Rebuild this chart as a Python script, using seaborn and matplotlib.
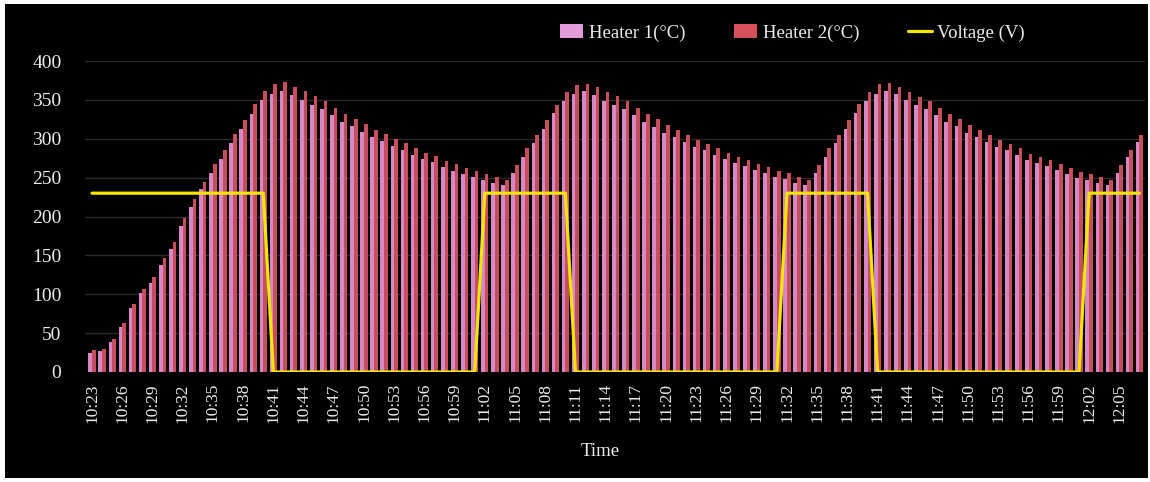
import numpy as np
import pandas as pd
import matplotlib
matplotlib.use("Agg")
import matplotlib.pyplot as plt
from matplotlib.patches import Rectangle, Patch
from matplotlib.lines import Line2D
import seaborn as sns

times = [
    "10:23", "10:24", "10:25", "10:26", "10:27", "10:28", "10:29", "10:30", "10:31", "10:32",
    "10:33", "10:34", "10:35", "10:36", "10:37", "10:38", "10:39", "10:40", "10:41", "10:42",
    "10:43", "10:44", "10:45", "10:46", "10:47", "10:48", "10:49", "10:50", "10:51", "10:52",
    "10:53", "10:54", "10:55", "10:56", "10:57", "10:58", "10:59", "11:00", "11:01", "11:02",
    "11:03", "11:04", "11:05", "11:06", "11:07", "11:08", "11:09", "11:10", "11:11", "11:12",
    "11:13", "11:14", "11:15", "11:16", "11:17", "11:18", "11:19", "11:20", "11:21", "11:22",
    "11:23", "11:24", "11:25", "11:26", "11:27", "11:28", "11:29", "11:30", "11:31", "11:32",
    "11:33", "11:34", "11:35", "11:36", "11:37", "11:38", "11:39", "11:40", "11:41", "11:42",
    "11:43", "11:44", "11:45", "11:46", "11:47", "11:48", "11:49", "11:50", "11:51", "11:52",
    "11:53", "11:54", "11:55", "11:56", "11:57", "11:58", "11:59", "12:00", "12:01", "12:02",
    "12:03", "12:04", "12:05", "12:06", "12:07",
]

heater1 = [
    25, 27, 38, 58, 82, 101, 115, 138, 158, 188,
    212, 235, 256, 274, 295, 312, 332, 350, 358, 362,
    356, 350, 344, 338, 330, 322, 316, 309, 302, 297,
    291, 285, 279, 274, 270, 264, 259, 255, 251, 247,
    243, 240, 256, 277, 295, 313, 333, 349, 358, 361,
    356, 349, 344, 338, 330, 322, 315, 308, 302, 296,
    290, 285, 279, 274, 269, 265, 260, 256, 251, 248,
    243, 240, 256, 277, 295, 313, 333, 349, 358, 361,
    357, 350, 344, 338, 330, 322, 316, 308, 302, 296,
    290, 285, 279, 273, 269, 265, 260, 255, 249, 247,
    243, 240, 256, 276, 296,
]

heater2 = [
    28, 30, 42, 63, 88, 107, 122, 147, 167, 198,
    222, 245, 268, 285, 306, 324, 345, 362, 370, 373,
    367, 361, 355, 348, 340, 332, 326, 319, 311, 306,
    300, 294, 288, 282, 278, 272, 267, 263, 259, 255,
    251, 247, 266, 288, 305, 324, 344, 360, 369, 371,
    366, 360, 355, 348, 340, 332, 325, 318, 311, 305,
    299, 293, 288, 282, 277, 273, 268, 264, 259, 256,
    251, 247, 266, 288, 305, 324, 345, 360, 370, 372,
    367, 360, 354, 348, 339, 332, 325, 318, 311, 305,
    298, 293, 288, 281, 277, 273, 268, 263, 257, 255,
    251, 247, 266, 286, 305,
]

voltage = [
    230, 230, 230, 230, 230, 230, 230, 230, 230, 230,
    230, 230, 230, 230, 230, 230, 230, 230, 0, 0,
    0, 0, 0, 0, 0, 0, 0, 0, 0, 0,
    0, 0, 0, 0, 0, 0, 0, 0, 0, 230,
    230, 230, 230, 230, 230, 230, 230, 230, 0, 0,
    0, 0, 0, 0, 0, 0, 0, 0, 0, 0,
    0, 0, 0, 0, 0, 0, 0, 0, 0, 230,
    230, 230, 230, 230, 230, 230, 230, 230, 0, 0,
    0, 0, 0, 0, 0, 0, 0, 0, 0, 0,
    0, 0, 0, 0, 0, 0, 0, 0, 0, 230,
    230, 230, 230, 230, 230,
]

series_names = ["Heater 1(°C)", "Heater 2(°C)"]
line_name = "Voltage (V)"
yticks = [0, 50, 100, 150, 200, 250, 300, 350, 400]

PINK = "#D488C8"
RED = "#C84E5C"
YELLOW = "#F2E600"
TXT = "#EDEDED"
GRID = "#2A2A2A"

sns.set_style("dark")
plt.rcParams["font.family"] = ["Liberation Serif", "DejaVu Serif"]

df = pd.DataFrame({
    "Time": times * 2,
    "Temp": heater1 + heater2,
    "Series": [series_names[0]] * len(times) + [series_names[1]] * len(times),
})

W, H = 1150, 482
fig = plt.figure(figsize=(W / 100, H / 100), dpi=100)
fig.patch.set_facecolor("white")
fig.add_artist(Rectangle((5 / W, 4 / H), (W - 7) / W, (H - 8) / H,
                         transform=fig.transFigure, facecolor="black",
                         edgecolor="none", zorder=-10))

ax = fig.add_axes([85 / W, (H - 372) / H, 1060 / W, 311 / H])
ax.set_facecolor("black")

sns.barplot(data=df, x="Time", y="Temp", hue="Series", order=times,
            hue_order=series_names, palette=[PINK, RED], width=0.72,
            saturation=1, linewidth=0, ax=ax, legend=False, zorder=2)
sns.lineplot(x=np.arange(len(times)), y=voltage, color=YELLOW, lw=2.3,
             ax=ax, zorder=3)

ax.set_ylim(0, 400)
ax.set_xlim(-0.7, len(times) - 0.45)
ax.set_yticks(yticks)
ax.set_yticklabels([str(v) for v in yticks], color=TXT, fontsize=14)
ax.set_xticks(range(0, len(times), 3))
ax.set_xticklabels(times[::3], rotation=90, color=TXT, fontsize=12.5)
ax.tick_params(axis="x", length=0, pad=8)
ax.tick_params(axis="y", length=0, pad=17)
ax.grid(axis="y", color=GRID, lw=1, zorder=0)
ax.grid(axis="x", visible=False)
ax.set_axisbelow(True)
for s in ax.spines.values():
    s.set_visible(False)

ax.set_ylabel("")
ax.set_xlabel("Time", color=TXT, fontsize=13.5)
ax.xaxis.set_label_coords((600 - 85) / 1060, (372 - 443) / 311)

handles = [Patch(facecolor="#E39BDA", edgecolor="none"),
           Patch(facecolor="#D5525C", edgecolor="none"),
           Line2D([0], [0], color=YELLOW, lw=2.3)]
labels = series_names + [line_name]
leg = fig.legend(handles, labels, ncol=3, loc="center right",
                 bbox_to_anchor=(1025 / W, 1 - 33 / H), frameon=False,
                 fontsize=13.5, handlelength=1.25, handleheight=0.7,
                 handletextpad=0.3, columnspacing=2.6, borderpad=0,
                 borderaxespad=0)
for t in leg.get_texts():
    t.set_color(TXT)

fig.savefig("out.png", dpi=100, facecolor=fig.get_facecolor())
